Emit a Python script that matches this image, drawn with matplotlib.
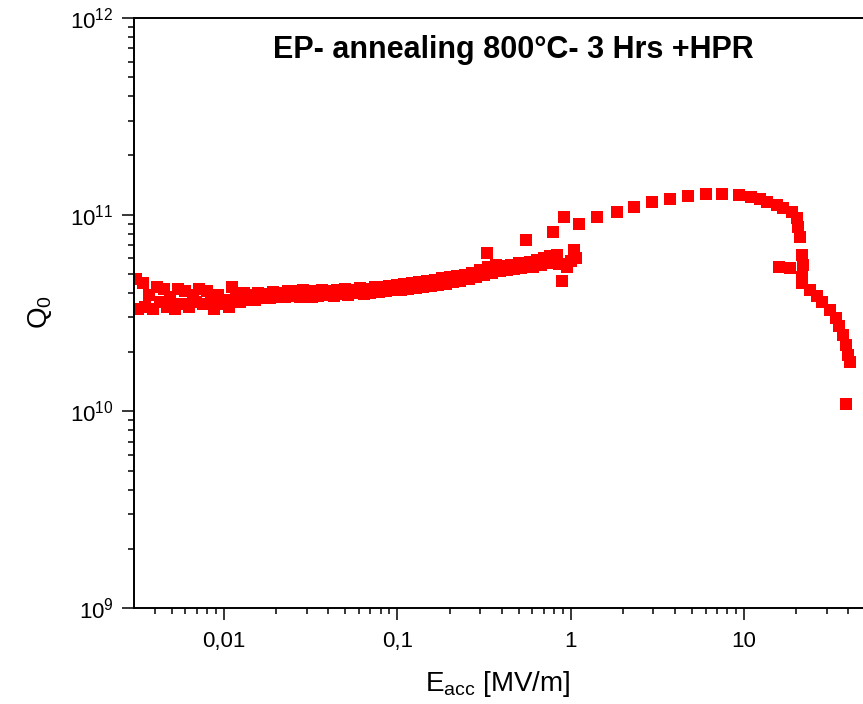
import matplotlib
matplotlib.use("Agg")
import matplotlib.pyplot as plt
from matplotlib.ticker import FixedLocator, FixedFormatter, LogLocator, NullFormatter

plt.rcParams['font.family'] = ['Liberation Sans', 'DejaVu Sans']
plt.rcParams['mathtext.fontset'] = 'custom'
plt.rcParams['mathtext.rm'] = 'Liberation Sans'
plt.rcParams['mathtext.default'] = 'regular'

# E_acc [MV/m] and Q0 (in units of 1e10)
e_acc = [0.0031, 0.0032, 0.0034, 0.0035, 0.0037, 0.0039, 0.0041, 0.0043, 0.0045, 0.0047,
         0.0049, 0.0052, 0.0054, 0.0057, 0.0060, 0.0063, 0.0066, 0.0069, 0.0072, 0.0076,
         0.0080, 0.0084, 0.0088, 0.0092, 0.0097, 0.0102, 0.0107, 0.0112, 0.0118, 0.0124,
         0.0130, 0.0137, 0.0144, 0.0151, 0.0158, 0.0166, 0.0175, 0.0184, 0.0193, 0.0203,
         0.0213, 0.0224, 0.0235, 0.0247, 0.0260, 0.0273, 0.0287,
         0.030, 0.032, 0.033, 0.035, 0.037, 0.039, 0.041, 0.043, 0.045, 0.047,
         0.050, 0.052, 0.055, 0.058, 0.061, 0.064, 0.067, 0.070, 0.074, 0.078,
         0.082, 0.086, 0.090, 0.095, 0.100, 0.105, 0.110, 0.116, 0.122, 0.128,
         0.134, 0.141, 0.148, 0.156, 0.164, 0.172, 0.181, 0.190, 0.20, 0.21,
         0.22, 0.23, 0.245, 0.26, 0.27, 0.285, 0.30, 0.315, 0.33, 0.335,
         0.35, 0.37, 0.39, 0.41, 0.43, 0.45, 0.47, 0.50, 0.52, 0.55,
         0.56, 0.58, 0.61, 0.64, 0.67, 0.70, 0.73, 0.76, 0.79, 0.80,
         0.83, 0.86, 0.89, 0.92, 0.95, 1.0, 1.05, 1.08, 1.11,
         1.41, 1.84, 2.31, 2.93, 3.72, 4.72, 6.0, 7.5, 9.3, 11.0,
         12.3, 13.6, 15.4, 16.7, 18.8, 20.1, 20.4, 20.9, 21.7, 22.0,
         21.7, 16.0, 18.3,
         21.7, 23.9, 26.5, 28.3, 31.1, 33.7, 35.5, 37.0, 38.5, 39.5,
         40.6, 38.5]

q0_e10 = [4.7, 3.3, 4.5, 3.4, 3.9, 3.3, 4.3, 3.6, 4.2, 3.4,
          3.8, 3.3, 4.2, 3.5, 4.1, 3.4, 3.9, 3.6, 4.2, 3.5,
          4.1, 3.7, 3.3, 3.9, 3.5, 3.7, 3.4, 4.3, 3.8, 3.6,
          4.0, 3.7, 3.9, 3.7, 4.0, 3.75, 3.95, 3.75, 4.05, 3.8,
          4.0, 3.8, 4.1, 3.85, 4.1, 3.8, 4.15,
          3.95, 3.8, 4.1, 3.85, 4.15, 3.9, 4.1, 3.85, 4.15, 3.95,
          4.2, 3.9, 4.15, 4.0, 4.25, 3.95, 4.2, 4.0, 4.3, 4.05,
          4.3, 4.1, 4.35, 4.15, 4.4, 4.15, 4.45, 4.2, 4.5, 4.25,
          4.55, 4.3, 4.6, 4.35, 4.65, 4.4, 4.75, 4.45, 4.8, 4.55,
          4.85, 4.6, 4.95, 4.7, 5.05, 4.8, 5.25, 4.95, 6.4, 5.45,
          5.05, 5.55, 5.15, 5.5, 5.25, 5.55, 5.3, 5.65, 5.35, 7.4,
          5.45, 5.75, 5.4, 5.85, 5.55, 6.05, 5.65, 6.15, 8.2, 5.85,
          6.25, 5.6, 4.6, 9.7, 5.4, 5.8, 6.6, 6.0, 9.0,
          9.7, 10.3, 10.9, 11.6, 12.0, 12.5, 12.7, 12.7, 12.6, 12.3,
          12.0, 11.6, 11.2, 10.8, 10.3, 9.6, 8.65, 7.7, 6.24, 5.55,
          4.82, 5.4, 5.35,
          4.5, 4.14, 3.86, 3.6, 3.28, 2.99, 2.72, 2.45, 2.18, 1.94,
          1.78, 1.09]

xtick_vals = [0.01, 0.1, 1, 10]
xtick_labels = ['0,01', '0,1', '1', '10']
ytick_vals = [1e9, 1e10, 1e11, 1e12]
ytick_labels = ['$10^{9}$', '$10^{10}$', '$10^{11}$', '$10^{12}$']

fig = plt.figure(figsize=(8.63, 7.04), dpi=100)
W, H = 863.0, 704.0
# axes runs past the right edge of the picture (right spine is cut off)
ax = fig.add_axes([134 / W, (H - 608) / H, (880 - 134) / W, 590 / H])

ax.plot(e_acc, [q * 1e10 for q in q0_e10], 's', color='#ff0000',
        markersize=9.3, markeredgewidth=0)

ax.set_xscale('log')
ax.set_yscale('log')
ax.set_xlim(0.003029, 60.8)
ax.set_ylim(1e9, 1e12)

ax.xaxis.set_major_locator(FixedLocator(xtick_vals))
ax.xaxis.set_major_formatter(FixedFormatter(xtick_labels))
ax.xaxis.set_minor_locator(LogLocator(base=10, subs=range(2, 10), numticks=20))
ax.xaxis.set_minor_formatter(NullFormatter())
ax.yaxis.set_major_locator(FixedLocator(ytick_vals))
ax.yaxis.set_major_formatter(FixedFormatter(ytick_labels))
ax.yaxis.set_minor_locator(LogLocator(base=10, subs=range(2, 10), numticks=20))
ax.yaxis.set_minor_formatter(NullFormatter())

ax.tick_params(which='major', direction='out', length=8.5, width=1.1, labelsize=16)
ax.tick_params(axis='x', which='major', pad=8)
ax.tick_params(axis='y', which='major', pad=6)
ax.tick_params(which='minor', direction='out', length=4.3, width=1.1)
for s in ax.spines.values():
    s.set_linewidth(1.4)

fig.text(40 / W, 1 - 312 / H, '$Q_0$', rotation=90, fontsize=20, ha='center', va='center')
fig.text(498 / W, 1 - 684 / H, '$E_{acc}$ [MV/m]', fontsize=20, ha='center', va='center')
fig.text(513 / W, 1 - 50 / H, 'EP- annealing 800°C- 3 Hrs +HPR', fontsize=22,
         fontweight='bold', ha='center', va='center')

fig.savefig('out.png', dpi=100)
